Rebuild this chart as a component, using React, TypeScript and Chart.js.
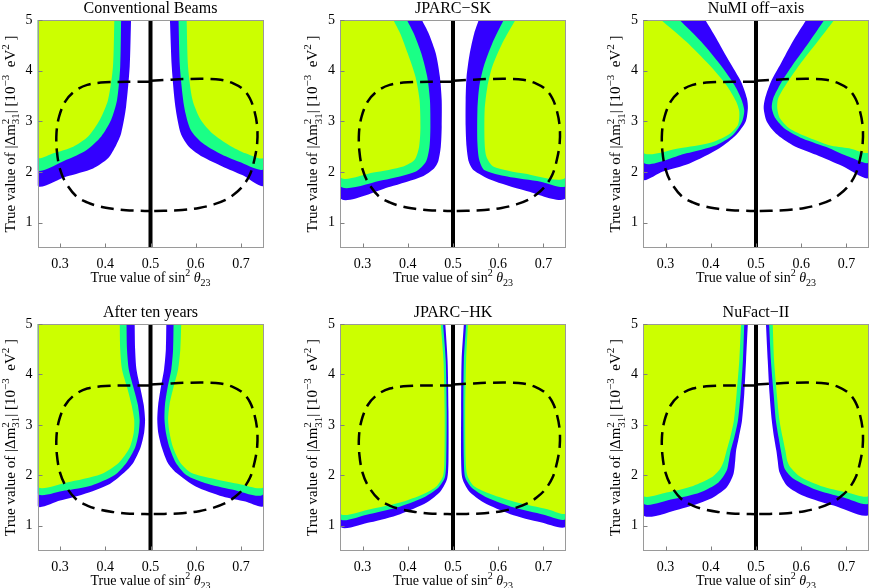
import React, { useEffect, useRef } from 'react';
import { Chart, registerables } from 'chart.js';

Chart.register(...registerables);

type Pt = [number, number];

// ---------- axis ticks ----------
const xTicks = [0.3, 0.4, 0.5, 0.6, 0.7];
const yTicks = [1, 2, 3, 4, 5];

// ---------- shared curves ----------
const centerLine: Pt[] = [[0.5, 0.5], [0.5, 5]];
const dashLeft: Pt[] = [[0.5, 3.78], [0.47, 3.78], [0.4, 3.77], [0.36, 3.72], [0.333, 3.6], [0.312, 3.4], [0.298, 3.1], [0.292, 2.77], [0.293, 2.4], [0.3, 2.05], [0.313, 1.78], [0.336, 1.52], [0.36, 1.4], [0.3875, 1.32], [0.42, 1.27], [0.446, 1.245], [0.475, 1.235], [0.5, 1.23]];
const dashRight: Pt[] = [[0.5, 3.8], [0.54, 3.82], [0.578, 3.835], [0.62, 3.84], [0.655, 3.82], [0.683, 3.75], [0.705, 3.63], [0.72, 3.45], [0.73, 3.2], [0.736, 2.9], [0.736, 2.57], [0.73, 2.25], [0.72, 1.95], [0.703, 1.71], [0.685, 1.56], [0.666, 1.45], [0.64, 1.36], [0.6075, 1.29], [0.57, 1.25], [0.53, 1.235], [0.5, 1.23]];

// ---------- Conventional Beams ----------
const convYellowL: Pt[] = [[0.42, 5], [0.417, 4.08], [0.406, 3.42], [0.388, 3.03], [0.362, 2.7], [0.329, 2.5], [0.285, 2.37], [0.25, 2.29], [0.25, 5]];
const convGreenL: Pt[] = [[0.435, 5], [0.433, 4.08], [0.426, 3.42], [0.413, 3.03], [0.391, 2.7], [0.358, 2.43], [0.314, 2.24], [0.25, 2.05], [0.25, 5]];
const convBlueL: Pt[] = [[0.457, 5], [0.454, 4.08], [0.446, 3.29], [0.435, 2.76], [0.424, 2.53], [0.406, 2.27], [0.373, 2.07], [0.314, 1.91], [0.25, 1.74], [0.25, 5]];
const convBlueR: Pt[] = [[0.543, 5], [0.547, 4.08], [0.555, 3.29], [0.567, 2.76], [0.585, 2.5], [0.615, 2.3], [0.659, 2.11], [0.703, 1.94], [0.75, 1.74], [0.75, 5]];
const convGreenR: Pt[] = [[0.562, 5], [0.565, 4.08], [0.5745, 3.29], [0.589, 2.83], [0.615, 2.57], [0.652, 2.37], [0.696, 2.2], [0.75, 2.07], [0.75, 5]];
const convYellowR: Pt[] = [[0.58, 5], [0.583, 4.08], [0.593, 3.42], [0.611, 3.03], [0.637, 2.76], [0.674, 2.53], [0.71, 2.37], [0.75, 2.29], [0.75, 5]];

// ---------- JPARC-SK ----------
const skYellowL: Pt[] = [[0.368, 5], [0.383, 4.74], [0.4, 4.34], [0.417, 3.88], [0.426, 3.42], [0.428, 2.89], [0.425, 2.5], [0.415, 2.24], [0.39, 2.11], [0.324, 1.99], [0.25, 1.91], [0.25, 5]];
const skGreenL: Pt[] = [[0.398, 5], [0.413, 4.74], [0.43, 4.34], [0.443, 3.88], [0.449, 3.42], [0.45, 2.89], [0.448, 2.5], [0.44, 2.2], [0.418, 2.01], [0.346, 1.84], [0.25, 1.74], [0.25, 5]];
const skBlueL: Pt[] = [[0.431, 5], [0.446, 4.74], [0.462, 4.34], [0.471, 3.88], [0.475, 3.42], [0.475, 2.89], [0.473, 2.5], [0.467, 2.2], [0.458, 2.07], [0.432, 1.91], [0.361, 1.71], [0.25, 1.5], [0.25, 5]];
const skBlueR: Pt[] = [[0.557, 5], [0.547, 4.74], [0.537, 4.34], [0.53, 3.88], [0.528, 3.42], [0.528, 2.89], [0.53, 2.5], [0.535, 2.2], [0.545, 2.04], [0.585, 1.84], [0.657, 1.64], [0.75, 1.5], [0.75, 5]];
const skGreenR: Pt[] = [[0.612, 5], [0.587, 4.54], [0.568, 4.08], [0.558, 3.68], [0.554, 3.22], [0.554, 2.57], [0.558, 2.24], [0.569, 2.04], [0.62, 1.91], [0.694, 1.81], [0.75, 1.74], [0.75, 5]];
const skYellowR: Pt[] = [[0.638, 5], [0.609, 4.54], [0.587, 4.08], [0.576, 3.68], [0.57, 3.22], [0.57, 2.57], [0.574, 2.3], [0.589, 2.11], [0.657, 1.97], [0.75, 1.91], [0.75, 5]];

// ---------- NuMI off-axis ----------
const numiYellowL: Pt[] = [[0.29, 5], [0.346, 4.57], [0.397, 4.11], [0.434, 3.72], [0.456, 3.39], [0.463, 3.19], [0.46, 2.93], [0.438, 2.73], [0.397, 2.57], [0.331, 2.47], [0.25, 2.4], [0.25, 5]];
const numiGreenL: Pt[] = [[0.331, 5], [0.379, 4.57], [0.427, 4.05], [0.452, 3.72], [0.467, 3.45], [0.474, 3.22], [0.469, 2.99], [0.449, 2.73], [0.412, 2.53], [0.346, 2.37], [0.25, 2.2], [0.25, 5]];
const numiBlueL: Pt[] = [[0.388, 5], [0.412, 4.64], [0.441, 4.18], [0.467, 3.78], [0.48, 3.45], [0.482, 3.26], [0.477, 2.99], [0.456, 2.73], [0.419, 2.47], [0.353, 2.17], [0.294, 2.01], [0.25, 1.86], [0.25, 5]];
const numiBlueR: Pt[] = [[0.611, 5], [0.581, 4.57], [0.555, 4.14], [0.533, 3.78], [0.52, 3.45], [0.517, 3.26], [0.524, 2.99], [0.544, 2.76], [0.581, 2.53], [0.633, 2.34], [0.691, 2.12], [0.75, 1.9], [0.75, 5]];
const numiGreenR: Pt[] = [[0.651, 5], [0.618, 4.57], [0.581, 4.11], [0.555, 3.75], [0.538, 3.45], [0.535, 3.26], [0.543, 3.06], [0.563, 2.86], [0.603, 2.66], [0.662, 2.47], [0.706, 2.3], [0.75, 2.2], [0.75, 5]];
const numiYellowR: Pt[] = [[0.673, 5], [0.636, 4.57], [0.596, 4.11], [0.566, 3.72], [0.549, 3.45], [0.547, 3.26], [0.553, 3.06], [0.574, 2.86], [0.611, 2.7], [0.662, 2.53], [0.706, 2.47], [0.75, 2.4], [0.75, 5]];

// ---------- After ten years ----------
const tenYellowL: Pt[] = [[0.432, 5], [0.433, 4.5], [0.437, 4.1], [0.448, 3.75], [0.458, 3.4], [0.464, 3.1], [0.463, 2.85], [0.454, 2.55], [0.43, 2.25], [0.39, 2.02], [0.315, 1.86], [0.25, 1.79], [0.25, 5]];
const tenGreenL: Pt[] = [[0.447, 5], [0.448, 4.5], [0.452, 4.1], [0.462, 3.75], [0.472, 3.4], [0.476, 3.1], [0.474, 2.85], [0.466, 2.55], [0.447, 2.25], [0.42, 2.0], [0.37, 1.8], [0.31, 1.7], [0.25, 1.65], [0.25, 5]];
const tenBlueL: Pt[] = [[0.465, 5], [0.466, 4.5], [0.469, 4.1], [0.477, 3.75], [0.485, 3.4], [0.488, 3.1], [0.486, 2.85], [0.478, 2.55], [0.462, 2.25], [0.445, 2.08], [0.41, 1.83], [0.35, 1.62], [0.3, 1.5], [0.25, 1.4], [0.25, 5]];
const tenBlueR: Pt[] = [[0.535, 5], [0.534, 4.5], [0.53, 4.1], [0.523, 3.75], [0.517, 3.4], [0.515, 3.1], [0.517, 2.85], [0.525, 2.55], [0.538, 2.25], [0.557, 2.05], [0.6, 1.78], [0.66, 1.58], [0.71, 1.48], [0.75, 1.4], [0.75, 5]];
const tenGreenR: Pt[] = [[0.551, 5], [0.55, 4.5], [0.546, 4.1], [0.538, 3.75], [0.532, 3.4], [0.531, 3.1], [0.534, 2.85], [0.542, 2.55], [0.556, 2.25], [0.58, 2.0], [0.62, 1.85], [0.68, 1.72], [0.75, 1.64], [0.75, 5]];
const tenYellowR: Pt[] = [[0.568, 5], [0.566, 4.5], [0.561, 4.1], [0.551, 3.75], [0.542, 3.4], [0.539, 3.1], [0.542, 2.85], [0.55, 2.55], [0.566, 2.25], [0.59, 2.05], [0.64, 1.93], [0.7, 1.82], [0.75, 1.78], [0.75, 5]];

// ---------- JPARC-HK ----------
const hkYellowL: Pt[] = [[0.473, 5], [0.479, 4.27], [0.4815, 3.28], [0.481, 2.29], [0.478, 1.99], [0.4645, 1.79], [0.435, 1.63], [0.383, 1.46], [0.317, 1.33], [0.25, 1.26], [0.25, 5]];
const hkGreenL: Pt[] = [[0.478, 5], [0.484, 4.27], [0.486, 3.28], [0.485, 2.29], [0.482, 1.96], [0.468, 1.76], [0.435, 1.56], [0.376, 1.36], [0.309, 1.22], [0.25, 1.15], [0.25, 5]];
const hkBlueL: Pt[] = [[0.483, 5], [0.488, 4.27], [0.49, 3.28], [0.49, 2.29], [0.487, 1.93], [0.473, 1.69], [0.442, 1.46], [0.383, 1.23], [0.317, 1.07], [0.25, 1.0], [0.25, 5]];
const hkBlueR: Pt[] = [[0.524, 5], [0.519, 4.27], [0.518, 3.28], [0.518, 2.29], [0.521, 1.93], [0.535, 1.69], [0.568, 1.46], [0.627, 1.23], [0.694, 1.07], [0.75, 1.0], [0.75, 5]];
const hkGreenR: Pt[] = [[0.529, 5], [0.524, 4.27], [0.523, 3.28], [0.524, 2.29], [0.527, 1.96], [0.541, 1.76], [0.575, 1.56], [0.635, 1.36], [0.701, 1.22], [0.75, 1.15], [0.75, 5]];
const hkYellowR: Pt[] = [[0.533, 5], [0.529, 4.27], [0.527, 3.28], [0.528, 2.29], [0.532, 1.99], [0.546, 1.79], [0.583, 1.63], [0.642, 1.46], [0.709, 1.33], [0.75, 1.26], [0.75, 5]];

// ---------- NuFact-II ----------
const nfYellowL: Pt[] = [[0.467, 5], [0.463, 4.27], [0.457, 3.61], [0.451, 3.08], [0.443, 2.75], [0.435, 2.49], [0.429, 2.29], [0.42, 2.12], [0.402, 1.96], [0.361, 1.79], [0.302, 1.66], [0.25, 1.61], [0.25, 5]];
const nfGreenL: Pt[] = [[0.474, 5], [0.471, 4.27], [0.466, 3.61], [0.46, 3.08], [0.452, 2.75], [0.444, 2.49], [0.44, 2.29], [0.435, 2.09], [0.417, 1.86], [0.376, 1.66], [0.317, 1.53], [0.25, 1.46], [0.25, 5]];
const nfBlueL: Pt[] = [[0.482, 5], [0.478, 4.27], [0.474, 3.61], [0.469, 3.08], [0.462, 2.75], [0.456, 2.49], [0.454, 2.29], [0.45, 2.02], [0.435, 1.76], [0.398, 1.53], [0.331, 1.33], [0.25, 1.23], [0.25, 5]];
const nfBlueR: Pt[] = [[0.522, 5], [0.526, 4.27], [0.53, 3.61], [0.535, 3.08], [0.54, 2.75], [0.545, 2.49], [0.548, 2.29], [0.552, 2.06], [0.569, 1.79], [0.606, 1.59], [0.672, 1.4], [0.75, 1.24], [0.75, 5]];
const nfGreenR: Pt[] = [[0.529, 5], [0.533, 4.27], [0.539, 3.61], [0.544, 3.08], [0.55, 2.75], [0.555, 2.49], [0.559, 2.29], [0.564, 2.12], [0.583, 1.93], [0.628, 1.73], [0.694, 1.56], [0.75, 1.46], [0.75, 5]];
const nfYellowR: Pt[] = [[0.537, 5], [0.54, 4.27], [0.546, 3.61], [0.552, 3.08], [0.559, 2.75], [0.565, 2.49], [0.569, 2.29], [0.576, 2.16], [0.598, 1.97], [0.643, 1.79], [0.702, 1.66], [0.75, 1.61], [0.75, 5]];

// ---------- panels ----------
const panelTitles = ['Conventional Beams', 'JPARC\u2212SK', 'NuMI off\u2212axis', 'After ten years', 'JPARC\u2212HK', 'NuFact\u2212II'];
const panelBands: Pt[][][] = [
  [convYellowL, convYellowR, convGreenL, convGreenR, convBlueL, convBlueR],
  [skYellowL, skYellowR, skGreenL, skGreenR, skBlueL, skBlueR],
  [numiYellowL, numiYellowR, numiGreenL, numiGreenR, numiBlueL, numiBlueR],
  [tenYellowL, tenYellowR, tenGreenL, tenGreenR, tenBlueL, tenBlueR],
  [hkYellowL, hkYellowR, hkGreenL, hkGreenR, hkBlueL, hkBlueR],
  [nfYellowL, nfYellowR, nfGreenL, nfGreenR, nfBlueL, nfBlueR],
];

// ---------- style / layout ----------
const W = 872;
const H = 588;
const FAMILY = '"Liberation Serif", "Times New Roman", Times, serif';
const YELLOW = '#ccff00';
const GREEN = '#1aff86';
const BLUE = '#3300ff';
const BAND_COLORS = [YELLOW, YELLOW, GREEN, GREEN, BLUE, BLUE];
const COL_LEFT = [37.5, 340, 643];
const PLOT_W = 226;
const ROW_TOP = [20, 324];
const ROW_BOTTOM = [248, 551];
const YW = 30;
const XH = 30;

type Run = { t?: string; k?: 'sup' | 'sub' | 'it'; st?: [string, string] };

const yTitleRuns: Run[] = [
  { t: 'True value of |\u0394m' },
  { st: ['2', '31'] },
  { t: '| [10' },
  { k: 'sup', t: '\u22123' },
  { t: '  eV' },
  { k: 'sup', t: '2' },
  { t: ' ]' },
];
const xTitleRuns: Run[] = [
  { t: 'True value of sin' },
  { k: 'sup', t: '2' },
  { t: ' ' },
  { k: 'it', t: '\u03b8' },
  { k: 'sub', t: '23' },
];

function drawRich(ctx: CanvasRenderingContext2D, runs: Run[], cx: number, cy: number, base: number, rot: number) {
  const small = Math.round(base * 0.72);
  const fontFor = (r: Run) => {
    if (r.st || r.k === 'sup' || r.k === 'sub') return `${small}px ${FAMILY}`;
    if (r.k === 'it') return `italic ${base}px ${FAMILY}`;
    return `${base}px ${FAMILY}`;
  };
  const widths = runs.map((r) => {
    ctx.font = fontFor(r);
    if (r.st) return Math.max(ctx.measureText(r.st[0]).width, ctx.measureText(r.st[1]).width);
    return ctx.measureText(r.t || '').width;
  });
  const total = widths.reduce((a, b) => a + b, 0);
  ctx.save();
  ctx.translate(cx, cy);
  ctx.rotate(rot);
  ctx.textAlign = 'left';
  ctx.textBaseline = 'alphabetic';
  ctx.fillStyle = '#000';
  let x = -total / 2;
  runs.forEach((r, i) => {
    ctx.font = fontFor(r);
    if (r.st) {
      ctx.fillText(r.st[0], x, -base * 0.4);
      ctx.fillText(r.st[1], x, base * 0.3);
    } else {
      const dy = r.k === 'sup' ? -base * 0.4 : r.k === 'sub' ? base * 0.3 : 0;
      ctx.fillText(r.t || '', x, dy);
    }
    x += widths[i];
  });
  ctx.restore();
}

const decorPlugin = {
  id: 'decor',
  afterDraw(chart: any, _args: any, opts: any) {
    const { ctx, chartArea: a, scales } = chart;
    ctx.save();
    // frame
    ctx.strokeStyle = '#9a9a9a';
    ctx.lineWidth = 1;
    const l = Math.round(a.left) + 0.5;
    const t = Math.round(a.top) + 0.5;
    const r = Math.round(a.right) - 0.5;
    const b = Math.round(a.bottom) - 0.5;
    ctx.strokeRect(l, t, r - l, b - t);
    // inward ticks
    ctx.strokeStyle = '#808080';
    ctx.beginPath();
    xTicks.forEach((v) => {
      const px = Math.round(scales.x.getPixelForValue(v)) + 0.5;
      ctx.moveTo(px, b);
      ctx.lineTo(px, b - 4);
    });
    yTicks.forEach((v) => {
      const py = Math.round(scales.y.getPixelForValue(v)) + 0.5;
      ctx.moveTo(l, py);
      ctx.lineTo(l + 4, py);
    });
    ctx.stroke();
    ctx.restore();
    const cx = (a.left + a.right) / 2;
    // title
    ctx.save();
    ctx.font = `16px ${FAMILY}`;
    ctx.fillStyle = '#000';
    ctx.textAlign = 'center';
    ctx.textBaseline = 'alphabetic';
    ctx.fillText(opts.title, cx, a.top - 7);
    ctx.restore();
    // axis titles
    drawRich(ctx, xTitleRuns, cx, a.bottom + 34, 14, 0);
    drawRich(ctx, yTitleRuns, a.left - 23, (a.top + a.bottom) / 2, 15, -Math.PI / 2);
  },
};

const toXY = (pts: Pt[]) => pts.map(([x, y]) => ({ x, y }));

function buildConfig(idx: number): any {
  const col = idx % 3;
  const row = Math.floor(idx / 3);
  const L = COL_LEFT[col];
  const R = L + PLOT_W;
  const T = ROW_TOP[row];
  const B = ROW_BOTTOM[row];
  const bands = panelBands[idx];
  const datasets: any[] = [
    { data: toXY(centerLine), borderColor: '#000', borderWidth: 4, pointRadius: 0, fill: false, tension: 0 },
    { data: toXY(dashLeft), borderColor: '#000', borderWidth: 2.5, borderDash: [13, 7], pointRadius: 0, fill: false, tension: 0.35 },
    { data: toXY(dashRight), borderColor: '#000', borderWidth: 2.5, borderDash: [13, 7], pointRadius: 0, fill: false, tension: 0.35 },
  ];
  bands.forEach((pts, i) => {
    datasets.push({
      data: toXY(pts),
      backgroundColor: BAND_COLORS[i],
      borderColor: BAND_COLORS[i],
      borderWidth: 0,
      pointRadius: 0,
      fill: 'shape',
      tension: 0.25,
    });
  });
  const tickFont = { family: FAMILY, size: 14 };
  return {
    type: 'line',
    data: { datasets },
    options: {
      responsive: false,
      animation: false,
      events: [],
      layout: { padding: { left: L - YW, right: W - R, top: T, bottom: H - B - XH } },
      plugins: {
        legend: { display: false },
        tooltip: { enabled: false },
        title: { display: false },
        decor: { title: panelTitles[idx] },
      },
      scales: {
        x: {
          type: 'linear',
          min: 0.25,
          max: 0.75,
          grid: { display: false, drawTicks: false },
          border: { display: false },
          afterBuildTicks: (s: any) => { s.ticks = xTicks.map((v) => ({ value: v })); },
          afterFit: (s: any) => { s.height = XH; },
          ticks: { padding: 8, font: tickFont, color: '#000', maxRotation: 0, autoSkip: false, callback: (v: any) => Number(v).toFixed(1) },
        },
        y: {
          type: 'linear',
          min: 0.5,
          max: 5,
          grid: { display: false, drawTicks: false },
          border: { display: false },
          afterBuildTicks: (s: any) => { s.ticks = yTicks.map((v) => ({ value: v })); },
          afterFit: (s: any) => { s.width = YW; },
          ticks: { padding: 5, font: tickFont, color: '#000', autoSkip: false, callback: (v: any) => String(v) },
        },
      },
    },
    plugins: [decorPlugin],
  };
}

function Panel({ idx }: { idx: number }) {
  const ref = useRef<HTMLCanvasElement>(null);
  useEffect(() => {
    const chart = new Chart(ref.current as HTMLCanvasElement, buildConfig(idx));
    return () => chart.destroy();
  }, [idx]);
  return <canvas ref={ref} width={W} height={H} style={{ position: 'absolute', left: 0, top: 0, width: W, height: H }} />;
}

export default function App() {
  return (
    <div style={{ position: 'fixed', left: 0, top: 0, width: W, height: H, background: '#fff', overflow: 'hidden' }}>
      {[0, 1, 2, 3, 4, 5].map((i) => (
        <Panel key={i} idx={i} />
      ))}
    </div>
  );
}
